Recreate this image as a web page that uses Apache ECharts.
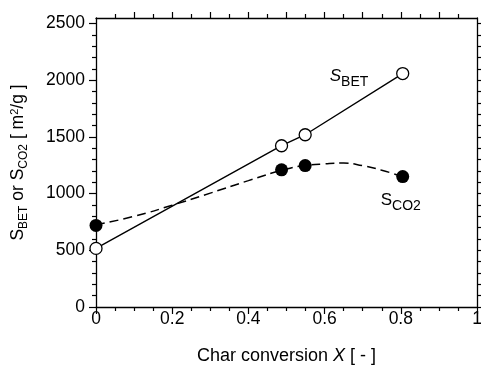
<!DOCTYPE html>
<html><head><meta charset="utf-8">
<script src="https://cdn.jsdelivr.net/npm/echarts@6/dist/echarts.min.js"></script>
<style>html,body{margin:0;padding:0;background:#fff}#c{width:481px;height:366px}</style>
</head><body><div id="c"></div>
<script>
// ---- data ----
const conversion = [0, 0.487, 0.549, 0.805];
const sBET = [517, 1423, 1520, 2060];
const sCO2 = [720, 1210, 1248, 1151];
// dashed fitted curve for S_CO2
const co2CurveX = [0, 0.1, 0.2, 0.3, 0.4, 0.5, 0.55, 0.6, 0.65, 0.7, 0.75, 0.805];
const co2CurveY = [725, 800, 898, 1005, 1115, 1218, 1248, 1263, 1270, 1247, 1207, 1150];
// tick labels / tick positions
const xTickLabels = [0, 0.2, 0.4, 0.6, 0.8, 1];
const xMinorTicks = [0.05, 0.1, 0.15, 0.25, 0.3, 0.35, 0.45, 0.5, 0.55, 0.65, 0.7, 0.75, 0.85, 0.9, 0.95];
const xTopMajor = [0.1, 0.2, 0.3, 0.4, 0.5, 0.6, 0.7, 0.8, 0.9];
const xTopMinor = [0.05, 0.15, 0.25, 0.35, 0.45, 0.55, 0.65, 0.75, 0.85, 0.95];
const yTickLabels = [0, 500, 1000, 1500, 2000, 2500];
const yMinorTicks = [100, 200, 300, 400, 600, 700, 800, 900, 1100, 1200, 1300, 1400, 1600, 1700, 1800, 1900, 2100, 2200, 2300, 2400];
const yRightTicks = [0, 100, 200, 300, 400, 500, 600, 700, 800, 900, 1000, 1100, 1200, 1300, 1400, 1500, 1600, 1700, 1800, 1900, 2000, 2100, 2200, 2300, 2400, 2500];

const FONT = 'Liberation Sans, Arial, sans-serif';
const X_MAX = 1, Y_MAX = 2550;
const LBL = 17.5;

function xAx(pos, ticks, len, showLine, label) {
  return {
    type: 'value', position: pos, min: 0, max: X_MAX, interval: 0.2,
    axisLine: {show: showLine, onZero: false, lineStyle: {color: '#000', width: 1.3}},
    axisTick: {show: true, inside: false, length: len, customValues: ticks, lineStyle: {color: '#000', width: 1.2}},
    axisLabel: label ? {show: true, customValues: ticks, margin: 3, fontSize: LBL, color: '#000', fontFamily: FONT,
      formatter: v => String(v)} : {show: false},
    splitLine: {show: false}
  };
}
function yAx(pos, ticks, len, showLine, label) {
  return {
    type: 'value', position: pos, min: 0, max: Y_MAX, interval: 500,
    axisLine: {show: showLine, onZero: false, lineStyle: {color: '#000', width: 1.3}},
    axisTick: {show: true, inside: false, length: len, customValues: ticks, lineStyle: {color: '#000', width: 1.2}},
    axisLabel: label ? {show: true, customValues: ticks, margin: 11, fontSize: LBL, color: '#000', fontFamily: FONT,
      formatter: v => String(v)} : {show: false},
    splitLine: {show: false}
  };
}

const xMain = xAx('bottom', xTickLabels, 7, true, true);
xMain.name = '{n|Char conversion }{i|X}{n| [ - ]}';
xMain.nameLocation = 'middle';
xMain.nameGap = 40;
xMain.nameTextStyle = {fontFamily: FONT, fontSize: 18, color: '#000',
  rich: {n: {fontFamily: FONT, fontSize: 18, color: '#000'}, i: {fontFamily: FONT, fontSize: 18, fontStyle: 'italic', color: '#000'}}};

const yMain = yAx('left', yTickLabels, 7, true, true);
yMain.name = '{m|S}{s|BET}{m| or S}{s|CO2}{m| [ m}{p|2}{m|/g ]}';
yMain.nameLocation = 'middle';
yMain.nameGap = 66;
yMain.nameTextStyle = {fontFamily: FONT, fontSize: 17.5, color: '#000', lineHeight: 24,
  rich: {
    m: {fontFamily: FONT, fontSize: 17.5, color: '#000', lineHeight: 24},
    s: {fontFamily: FONT, fontSize: 12, color: '#000', lineHeight: 12, verticalAlign: 'bottom'},
    p: {fontFamily: FONT, fontSize: 11, color: '#000', lineHeight: 11, verticalAlign: 'top', padding: [3, 0, 0, 0]}
  }};

const subRich = {
  si: {fontFamily: FONT, fontSize: 17, fontStyle: 'italic', color: '#000', lineHeight: 26},
  sm: {fontFamily: FONT, fontSize: 17, color: '#000', lineHeight: 26},
  s: {fontFamily: FONT, fontSize: 14, color: '#000', lineHeight: 14, verticalAlign: 'bottom'}
};

const chart = echarts.init(document.getElementById('c'), null, {renderer: 'canvas'});
chart.setOption({
  animation: false,
  backgroundColor: '#fff',
  grid: {left: 96, right: 4, top: 18, bottom: 59, containLabel: false, outerBoundsMode: 'none'},
  xAxis: [
    xMain,
    xAx('bottom', xMinorTicks, 4, false, false),
    xAx('top', xTopMajor, 6, true, false),
    xAx('top', xTopMinor, 4, false, false)
  ],
  yAxis: [
    yMain,
    yAx('left', yMinorTicks, 4, false, false),
    yAx('right', yRightTicks, 5, true, false)
  ],
  series: [
    {
      type: 'line', xAxisIndex: 0, yAxisIndex: 0,
      data: co2CurveX.map((x, i) => [x, co2CurveY[i]]),
      smooth: true, showSymbol: false, symbol: 'none',
      lineStyle: {color: '#000', width: 1.5, type: [9, 5]},
      z: 2, clip: false
    },
    {
      type: 'line', xAxisIndex: 0, yAxisIndex: 0,
      data: conversion.map((x, i) => [x, sBET[i]]),
      showSymbol: false, symbol: 'none',
      lineStyle: {color: '#000', width: 1.4},
      z: 3,
      markPoint: {
        symbol: 'circle', symbolSize: 0,
        data: [
          {coord: [0.664, 2033], label: {show: true, position: 'inside', formatter: '{si|S}{s|BET}', rich: subRich}},
          {coord: [0.80, 945], label: {show: true, position: 'inside', formatter: '{sm|S}{s|CO2}', rich: subRich}}
        ]
      }
    },
    {
      type: 'scatter', xAxisIndex: 0, yAxisIndex: 0,
      data: conversion.map((x, i) => [x, sCO2[i]]),
      symbol: 'circle', symbolSize: 13,
      itemStyle: {color: '#000', borderColor: '#000', borderWidth: 0, opacity: 1},
      z: 4, clip: false
    },
    {
      type: 'scatter', xAxisIndex: 0, yAxisIndex: 0,
      data: conversion.map((x, i) => [x, sBET[i]]),
      symbol: 'circle', symbolSize: 12,
      itemStyle: {color: '#fff', borderColor: '#000', borderWidth: 1.3, opacity: 1},
      z: 5, clip: false
    }
  ]
});
</script>
</body></html>
